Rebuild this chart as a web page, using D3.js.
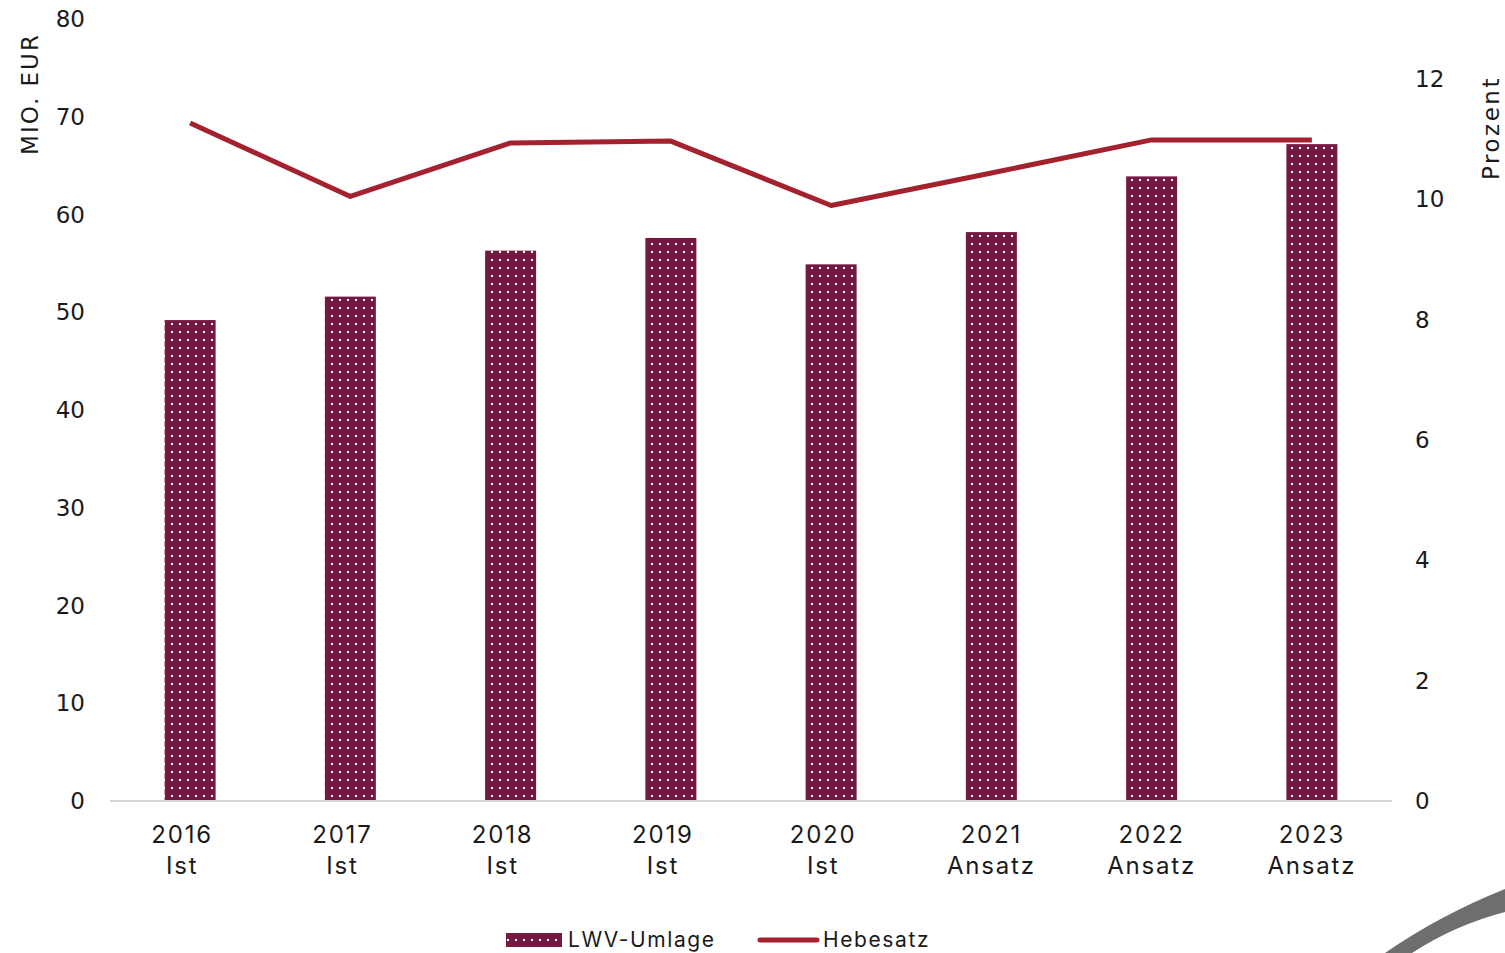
<!DOCTYPE html>
<html>
<head>
    <meta charset="utf-8">
    <title>LWV-Umlage</title>
    <script type="text/javascript" src="https://d3js.org/d3.v7.min.js"></script>
    <style>
      body { margin: 0; background: #fff; }
      text { fill: #1a1a1a; }
    </style>
</head>
<body>
<script type="text/javascript">

        var years = ["2016", "2017", "2018", "2019", "2020", "2021", "2022", "2023"]
        var kinds = ["Ist", "Ist", "Ist", "Ist", "Ist", "Ansatz", "Ansatz", "Ansatz"]
        var umlage = [49.2, 51.6, 56.3, 57.6, 54.9, 58.2, 63.9, 67.2]
        var hebesatz = [11.27, 10.05, 10.94, 10.97, 9.9, 10.44, 10.99, 10.99]
        var leftTicks = [0, 10, 20, 30, 40, 50, 60, 70, 80]
        var rightTicks = [0, 2, 4, 6, 8, 10, 12]

        var width = 1505
        var height = 953
        var plotLeft = 110, plotRight = 1392, plotTop = 19, plotBottom = 801
        var barColor = "#761941"
        var lineColor = "#a3222d"
        var font = "'DejaVu Sans', Arial, sans-serif"
        var labelFont = "Inter, 'Noto Sans', sans-serif"

        var svg = d3.select("body").append("svg").attr("width", width).attr("height", height)

        var pat = svg.append("defs").append("pattern")
            .attr("id", "dots").attr("patternUnits", "userSpaceOnUse")
            .attr("width", 8).attr("height", 8)
        pat.append("rect").attr("width", 8).attr("height", 8).attr("fill", barColor)
        pat.append("rect").attr("x", 3).attr("y", 3).attr("width", 2).attr("height", 2).attr("fill", "#fff")

        var x = d3.scaleBand().domain(years).range([plotLeft, plotRight])
        var yL = d3.scaleLinear().domain([0, 80]).range([plotBottom, plotTop])
        var yR = d3.scaleLinear().domain([0, 13]).range([plotBottom, plotTop])
        var barW = 51

        // bars
        svg.selectAll(".bar")
            .data(umlage)
            .enter()
            .append("rect")
            .attr("class", "bar")
            .attr("x", function(d, i) { return x(years[i]) + x.bandwidth() / 2 - barW / 2 })
            .attr("y", function(d) { return yL(d) })
            .attr("width", barW)
            .attr("height", function(d) { return plotBottom - yL(d) })
            .attr("fill", "url(#dots)")

        // baseline
        svg.append("line")
            .attr("x1", plotLeft).attr("x2", plotRight)
            .attr("y1", plotBottom).attr("y2", plotBottom)
            .attr("stroke", "#d4d4d4").attr("stroke-width", 2)

        // line
        var line = d3.line()
            .x(function(d, i) { return x(years[i]) + x.bandwidth() / 2 })
            .y(function(d) { return yR(d) })
        svg.append("path")
            .datum(hebesatz)
            .attr("d", line)
            .attr("fill", "none")
            .attr("stroke", lineColor)
            .attr("stroke-width", 5)
            .attr("stroke-linejoin", "round")

        // left axis
        svg.selectAll(".lt")
            .data(leftTicks)
            .enter()
            .append("text")
            .attr("class", "lt")
            .attr("x", 85)
            .attr("y", function(d) { return yL(d) + 8 })
            .attr("text-anchor", "end")
            .style("font-family", font)
            .style("font-size", "23px")
            .text(function(d) { return d })

        // right axis
        svg.selectAll(".rt")
            .data(rightTicks)
            .enter()
            .append("text")
            .attr("class", "rt")
            .attr("x", 1415)
            .attr("y", function(d) { return yR(d) + 8 })
            .style("font-family", font)
            .style("font-size", "23px")
            .text(function(d) { return d })

        svg.append("text")
            .attr("transform", "translate(38,94) rotate(-90)")
            .attr("text-anchor", "middle")
            .style("font-family", font)
            .style("font-size", "23px")
            .style("letter-spacing", "2px")
            .text("MIO. EUR")

        svg.append("text")
            .attr("transform", "translate(1499,128) rotate(-90)")
            .attr("text-anchor", "middle")
            .style("font-family", font)
            .style("font-size", "23px")
            .style("letter-spacing", "2.5px")
            .text("Prozent")

        // category labels
        var cats = svg.selectAll(".cat")
            .data(years)
            .enter()
            .append("text")
            .attr("class", "cat")
            .attr("text-anchor", "middle")
            .style("font-family", labelFont)
            .style("font-size", "24px")
            .style("letter-spacing", "1.8px")
        cats.append("tspan")
            .attr("x", function(d, i) { return x(d) + x.bandwidth() / 2 - (kinds[i] == "Ist" ? 8 : 0) })
            .attr("y", 843)
            .text(function(d) { return d })
        cats.append("tspan")
            .attr("x", function(d, i) { return x(d) + x.bandwidth() / 2 - (kinds[i] == "Ist" ? 8 : 0) })
            .attr("y", 874)
            .text(function(d, i) { return kinds[i] })

        // legend
        var lg = svg.append("g")
        lg.append("rect").attr("x", 506).attr("y", 933).attr("width", 56).attr("height", 14).attr("fill", "url(#dots)")
        lg.append("text").attr("x", 568).attr("y", 947)
            .style("font-family", labelFont).style("font-size", "21px").style("letter-spacing", "1.6px").text("LWV-Umlage")
        lg.append("line").attr("x1", 760).attr("x2", 817).attr("y1", 940).attr("y2", 940)
            .attr("stroke", lineColor).attr("stroke-width", 5).attr("stroke-linecap", "round")
        lg.append("text").attr("x", 823).attr("y", 947)
            .style("font-family", labelFont).style("font-size", "21px").style("letter-spacing", "1.6px").text("Hebesatz")

        // gray decoration in corner
        svg.append("path")
            .attr("d", "M1385,953 L1412,953 Q1455,925 1505,912 L1505,889 Q1440,915 1385,953 Z")
            .attr("fill", "#6e6e6e")

</script>
</body>
</html>
